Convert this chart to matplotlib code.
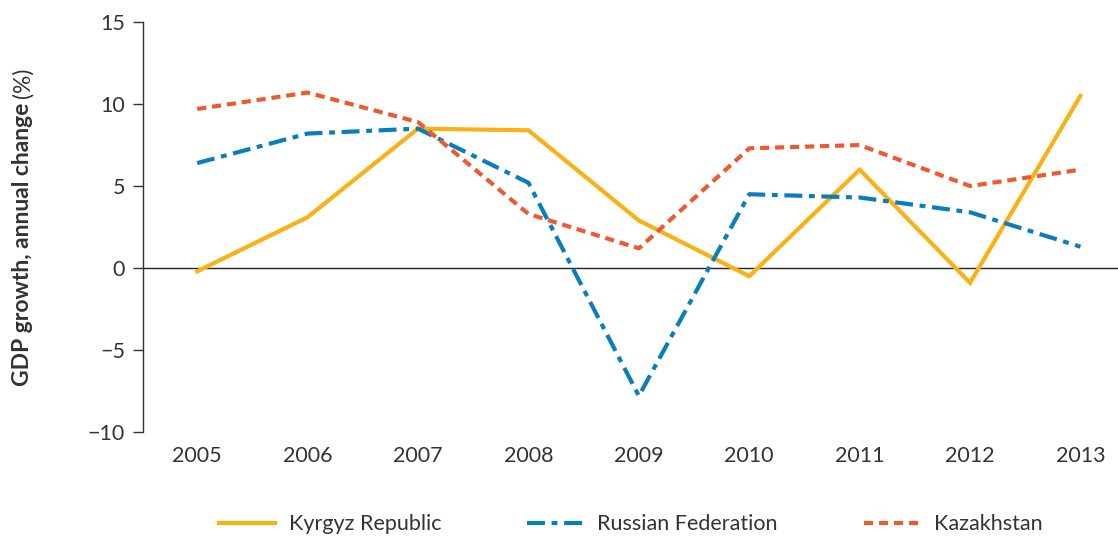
import matplotlib
matplotlib.use("Agg")
from matplotlib import pyplot as plt

years = [2005, 2006, 2007, 2008, 2009, 2010, 2011, 2012, 2013]
kyrgyz = [-0.2, 3.1, 8.5, 8.4, 2.9, -0.5, 6.0, -0.9, 10.5]
russia = [6.4, 8.2, 8.5, 5.2, -7.8, 4.5, 4.3, 3.4, 1.3]
kazakhstan = [9.7, 10.7, 8.9, 3.3, 1.2, 7.3, 7.5, 5.0, 6.0]
y_ticks = [-10, -5, 0, 5, 10, 15]
y_tick_labels = ["\u221210", "\u22125", "0", "5", "10", "15"]

plt.rcParams['font.family'] = ['Lato', 'DejaVu Sans']

fig = plt.figure(figsize=(11.18, 5.38), dpi=100)
ax = fig.add_axes([0.128, 0.197, 0.872, 0.762])

ax.plot(years, kyrgyz, color='#F9B116', lw=3, label='Kyrgyz Republic',
        solid_joinstyle='miter')
ax.plot(years, russia, color='#0A7DBB', lw=3, label='Russian Federation',
        linestyle=(0, (4.3, 1.6, 1.4, 1.6)))
ax.plot(years, kazakhstan, color='#EE5A2F', lw=3, label='Kazakhstan',
        linestyle=(0, (2.2, 1.4)))

ax.axhline(0, color='#222222', lw=1, zorder=0)

ax.set_xlim(2004.51, 2013.34)
ax.set_ylim(-10, 15)
ax.set_xticks(years)
ax.set_yticks(y_ticks)
ax.set_yticklabels(y_tick_labels)

for s in ['top', 'right', 'bottom']:
    ax.spines[s].set_visible(False)
ax.spines['left'].set_color('#333333')
ax.spines['left'].set_linewidth(1)

ax.tick_params(axis='y', length=7, width=1, color='#333333', pad=6,
               labelsize=15.5, labelcolor='#333333')
ax.tick_params(axis='x', length=0, pad=10, labelsize=15.5, labelcolor='#333333')

leg = ax.legend(loc='center', bbox_to_anchor=(0.5, -0.225), ncol=3,
                frameon=False, fontsize=15.5, handlelength=2.6,
                columnspacing=4.0, handletextpad=0.65)
for t in leg.get_texts():
    t.set_color('#333333')

ylab = fig.text(0.02, 1 - 386 / 538, 'GDP growth, annual change',
                rotation=90, ha='center', va='bottom', fontsize=16.5,
                fontweight='bold', color='#333333')
fig.canvas.draw()
bb = ylab.get_window_extent()
fig.text(0.02, (bb.y1 + 5) / fig.bbox.height, '(%)', rotation=90,
         ha='center', va='bottom', fontsize=16.5, color='#333333')

fig.savefig('out.png', dpi=100)
